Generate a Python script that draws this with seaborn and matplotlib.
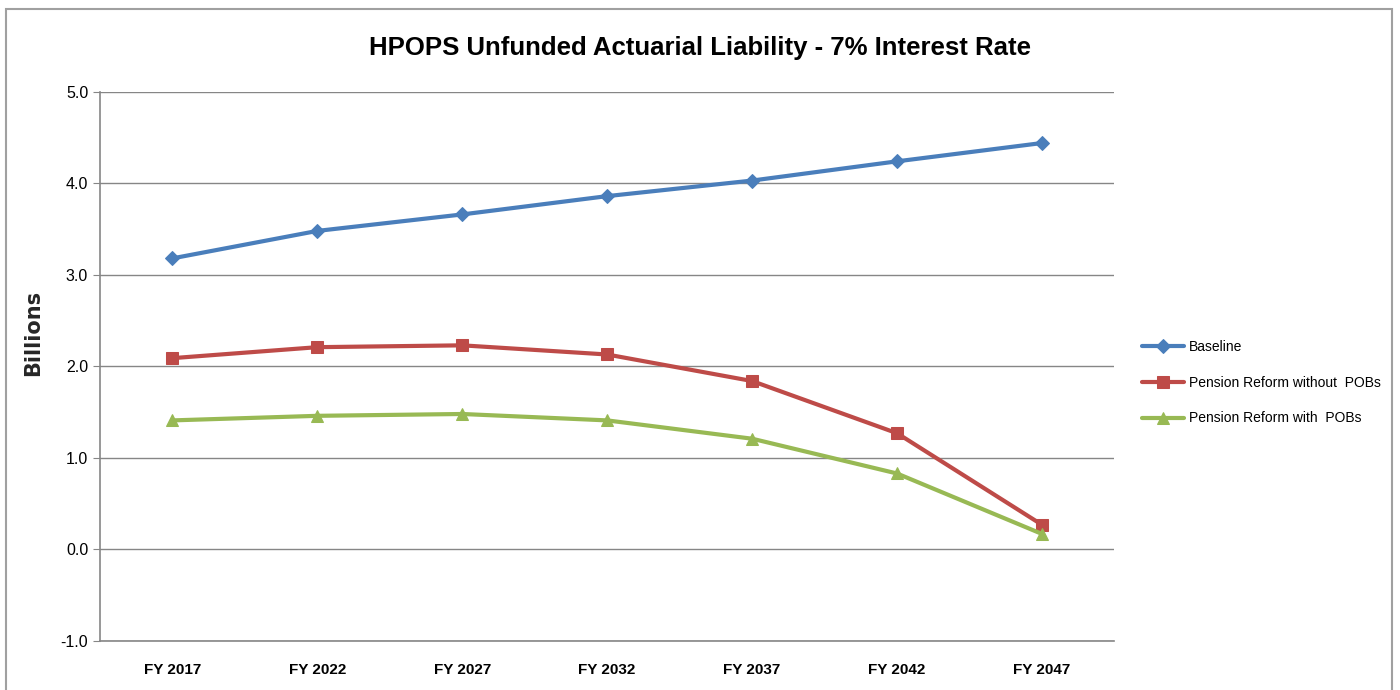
import numpy as np
import pandas as pd
import matplotlib.pyplot as plt
import seaborn as sns
from matplotlib.patches import Rectangle

# values (billions)
years = ['FY 2017', 'FY 2022', 'FY 2027', 'FY 2032', 'FY 2037', 'FY 2042', 'FY 2047']
baseline = [3.18, 3.48, 3.66, 3.86, 4.03, 4.24, 4.44]
reform_no_pob = [2.09, 2.21, 2.23, 2.13, 1.84, 1.27, 0.27]
reform_pob = [1.41, 1.46, 1.48, 1.41, 1.21, 0.83, 0.17]

names = ['Baseline', 'Pension Reform without  POBs', 'Pension Reform with  POBs']
colors = ['#4A7EBB', '#BE4B48', '#98B954']
markers = ['D', 's', '^']

df = pd.DataFrame({
    'pos': list(range(len(years))) * 3,
    'value': baseline + reform_no_pob + reform_pob,
    'series': [n for n in names for _ in years],
})

sns.set_style('white')
plt.rcParams['font.family'] = ['Liberation Sans Narrow', 'Liberation Sans', 'DejaVu Sans']
plt.rcParams['text.color'] = 'black'
plt.rcParams['xtick.labelcolor'] = 'black'
plt.rcParams['ytick.labelcolor'] = 'black'

fig = plt.figure(figsize=(14, 6.9), dpi=100)
ax = fig.add_axes([0.0714, 0.071, 0.7246, 0.796])

for n, c, m in zip(names, colors, markers):
    sub = df[df.series == n]
    sns.lineplot(data=sub, x='pos', y='value', ax=ax, color=c, lw=3,
                 marker=m, markersize=9 if m != 'D' else 7, markeredgecolor=c,
                 label=n)

ax.set_xlim(-0.5, len(years) - 0.5)
ax.set_ylim(-1.0, 5.0)
ax.set_yticks(np.arange(-1.0, 5.01, 1.0))
ax.set_yticklabels([f'{v:.1f}' for v in np.arange(-1.0, 5.01, 1.0)], fontsize=11.5)
ax.set_xticks(range(len(years)))
ax.set_xticklabels(years, fontsize=11, fontweight='bold')
ax.set_xticks(np.arange(-0.5, len(years), 1.0), minor=True)
ax.tick_params(axis='x', which='major', length=0, pad=16)
ax.tick_params(axis='x', which='minor', length=5, color='#868686', direction='out')
ax.tick_params(axis='y', length=5, color='#868686', direction='out', left=True)
ax.yaxis.grid(True, color='#868686', lw=1)
ax.set_axisbelow(True)
for s in ['top', 'right']:
    ax.spines[s].set_visible(False)
for s in ['left', 'bottom']:
    ax.spines[s].set_color('#868686')
    ax.spines[s].set_linewidth(1.2)

ax.set_xlabel('')
ax.set_ylabel('Billions', fontsize=15, fontweight='bold', family='DejaVu Sans')
ax.yaxis.set_label_coords(-0.056, 0.56)

fig.text(0.5, 0.93, 'HPOPS Unfunded Actuarial Liability - 7% Interest Rate',
         ha='center', va='center', fontsize=18.5, fontweight='bold')

ax.legend(loc='center left', bbox_to_anchor=(1.015, 0.47), frameon=False,
          fontsize=10, handlelength=3.0, handletextpad=0.4, labelspacing=1.55)

fig.patches.append(Rectangle((0.004, -0.01), 0.99, 0.997, transform=fig.transFigure,
                             fill=False, edgecolor='#A0A0A0', lw=1.5))

fig.savefig('out.png', dpi=100)
